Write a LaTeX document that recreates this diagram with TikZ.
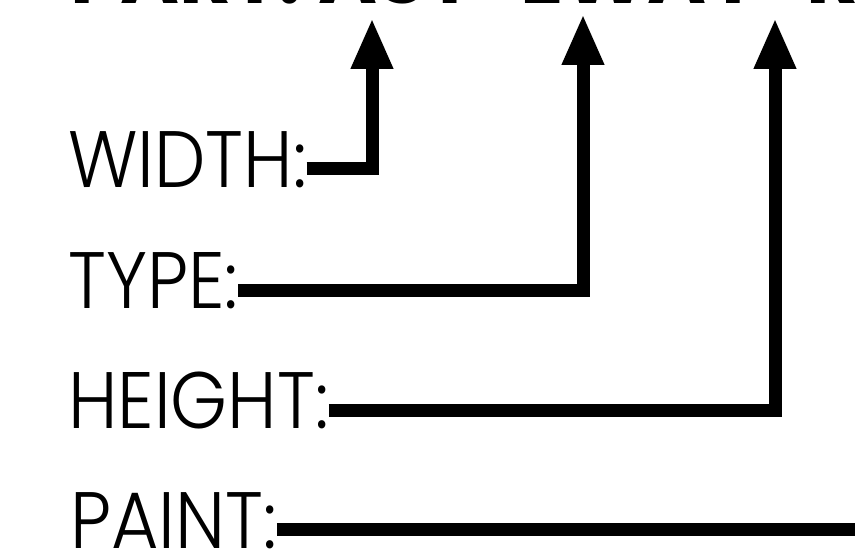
\documentclass[tikz,border=0pt]{standalone}
\usepackage{fontspec}
\usetikzlibrary{arrows.meta}
\newfontfamily\labelfont{Poppins}[UprightFont=* Light, FakeStretch=0.91]
\newfontfamily\partfont{Poppins}[UprightFont=* Bold]
\tikzstyle{tag} = [inner sep=0pt, anchor=base west,
font={\labelfont\fontsize{80pt}{80pt}\selectfont}]
\tikzstyle{partno} = [inner sep=0pt, anchor=base west,
font={\partfont\fontsize{80pt}{80pt}\selectfont}]
\tikzstyle{lead} = [line width=13pt, -{Triangle[width=39pt,length=51pt]}]
\tikzstyle{bar} = [line width=13pt]

\begin{document}
\begin{tikzpicture}[x=1pt,y=-1pt]
  \useasboundingbox (0,0) rectangle (855,551);
  % Part number, cut by the top edge
  \node (part) [partno] at (70,4) {PART: AST-EWAY-R};
  % Labels
  \node (width) [tag] at (68,187) {WIDTH:};
  \node (type) [tag] at (68,308) {TYPE:};
  \node (height) [tag] at (68,428) {HEIGHT:};
  \node (paint) [tag] at (70,548) {PAINT:};
  % Ends of the leads
  \coordinate (wtip) at (372,18);
  \coordinate (ttip) at (583,14);
  \coordinate (htip) at (775,18);
  \coordinate (pend) at (862,529);
  % Connections
  \draw [lead] ([yshift=19pt]width.base east) -| (wtip);
  \draw [lead] ([yshift=18pt]type.base east) -| (ttip);
  \draw [lead] ([yshift=18pt]height.base east) -| (htip);
  \draw [bar] ([yshift=19pt]paint.base east) -- (pend);
\end{tikzpicture}
\end{document}
